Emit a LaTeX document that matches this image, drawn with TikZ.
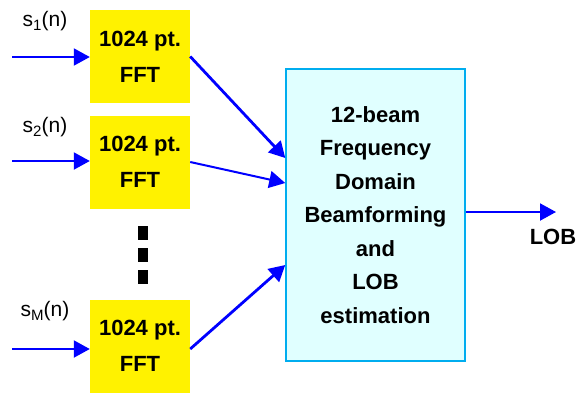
\documentclass[tikz,border=0pt]{standalone}
\usepackage{fontspec}
\setmainfont{Liberation Sans}
\usepackage{tikz}
\usetikzlibrary{arrows.meta, positioning}
\definecolor{boxfill}{RGB}{224,255,255}
\newcommand{\sub}[1]{\raisebox{-0.35ex}{\fontsize{15}{15}\selectfont #1}}

\begin{document}
\begin{tikzpicture}[x=1pt, y=-1pt,
    fft/.style={fill=yellow, minimum width=100pt, minimum height=93pt, inner sep=0pt,
      align=center, font=\bfseries\fontsize{22}{36}\selectfont},
    sig/.style={font=\fontsize{21}{24}\selectfont},
    arr/.style={draw=blue, line width=2pt, -{Triangle[length=16pt, width=17pt]}}]
  \useasboundingbox (0,0) rectangle (578,392);

  \node [fft] (f1) at (140,56.5) {1024 pt.\\FFT};
  \node [fft] (f2) at (140,162) {1024 pt.\\FFT};
  \node [fft] (f3) at (140,346) {1024 pt.\\FFT};

  \foreach \y in {233,255,276.5}
    \fill (138,\y-7) rectangle (148,\y+7);

  \node (bf) at (375.5,215) [draw=cyan, line width=1.5pt, fill=boxfill,
    minimum width=179pt, minimum height=292pt, align=center,
    font=\bfseries\fontsize{22}{33.5}\selectfont]
    {12-beam\\Frequency\\Domain\\Beamforming\\and\\LOB\\estimation};

  \coordinate (in1) at (12,57);
  \coordinate (in2) at (12,161);
  \coordinate (in3) at (12,349);
  \node [sig] (s1) at (45,21) {s\sub{1}(n)};
  \node [sig] (s2) at (45,127) {s\sub{2}(n)};
  \node [sig] (s3) at (45,311) {s\sub{M}(n)};

  \path[arr] (in1) -- (in1 -| f1.west);
  \path[arr] (in2) -- (in2 -| f2.west);
  \path[arr] (in3) -- (in3 -| f3.west);

  \path[arr, line width=2.8pt] (f1.east) -- ([yshift=57pt]bf.west);
  \path[arr] (f2.east) -- ([yshift=32pt]bf.west);
  \path[arr, line width=2.8pt] ([yshift=-3pt]f3.east) -- ([yshift=-50pt]bf.west);

  \coordinate (out) at (556,212);
  \path[arr] (bf.east |- out) -- (out);
  \node (lob) [below=14pt of out, font=\bfseries\fontsize{22}{24}\selectfont, xshift=-3pt] {LOB};
\end{tikzpicture}
\end{document}
